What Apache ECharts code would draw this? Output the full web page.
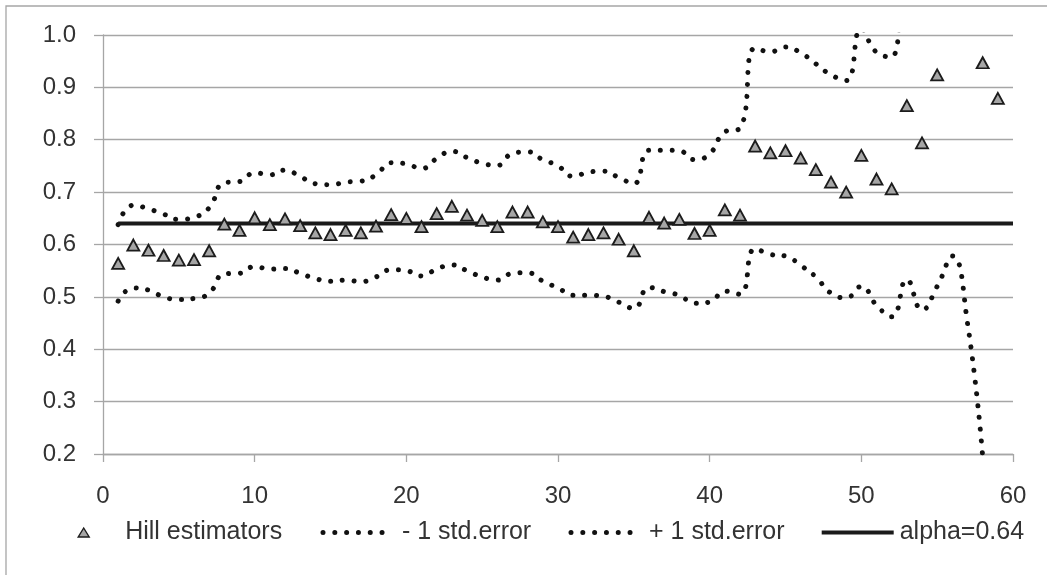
<!DOCTYPE html>
<html>
<head>
<meta charset="utf-8">
<script src="https://cdn.jsdelivr.net/npm/echarts@6/dist/echarts.min.js"></script>
<style>
html,body{margin:0;padding:0;background:#ffffff;}
#chart{width:1047px;height:575px;}
</style>
</head>
<body>
<div id="chart"></div>
<script>
// k (number of order statistics)
const kValues = [1,2,3,4,5,6,7,8,9,10,11,12,13,14,15,16,17,18,19,20,21,22,23,24,25,26,27,28,29,30,
  31,32,33,34,35,36,37,38,39,40,41,42,43,44,45,46,47,48,49,50,51,52,53,54,55,56,57,58,59];

// Hill estimators (null = not visible in the chart)
const hillValues = [0.564,0.599,0.589,0.579,0.570,0.571,0.588,0.639,0.627,0.651,
  0.638,0.649,0.636,0.622,0.619,0.627,0.622,0.635,0.657,0.650,
  0.634,0.659,0.673,0.656,0.646,0.634,0.662,0.662,0.643,0.634,
  0.614,0.619,0.622,0.610,0.588,0.652,0.641,0.648,0.621,0.627,
  0.666,0.656,0.788,0.775,0.779,0.765,0.743,0.719,0.700,0.770,
  0.725,0.706,0.865,0.794,0.924,null,null,0.947,0.879];

// - 1 std.error
const lowerValues = [0.492,0.517,0.513,0.500,0.495,0.497,0.507,0.544,0.545,0.558,
  0.553,0.554,0.545,0.535,0.530,0.532,0.529,0.538,0.552,0.550,
  0.540,0.553,0.561,0.550,0.538,0.532,0.545,0.546,0.530,0.517,
  0.503,0.503,0.501,0.490,0.478,0.518,0.510,0.503,0.488,0.490,
  0.511,0.505,0.592,0.581,0.578,0.560,0.538,0.507,0.498,0.520,
  0.484,0.462,0.533,0.475,0.520,0.578,0.450,0.195,null];

// + 1 std.error (values above 1.0 run off the top of the chart)
const upperValues = [0.638,0.675,0.668,0.658,0.648,0.652,0.670,0.718,0.720,0.737,
  0.733,0.742,0.730,0.716,0.714,0.719,0.721,0.733,0.756,0.754,
  0.745,0.764,0.778,0.766,0.755,0.751,0.774,0.777,0.762,0.750,
  0.730,0.738,0.740,0.728,0.716,0.780,0.780,0.779,0.762,0.773,
  0.815,0.822,0.975,0.968,0.977,0.966,0.945,0.924,0.913,1.012,
  0.967,0.958,1.195,1.110,1.320,null,null,null,null];

const alphaValue = 0.64;
const alphaK = [1, 60];

const seriesNames = ['Hill estimators', '- 1 std.error', '+ 1 std.error', 'alpha=0.64'];
const xAxisRange = [0, 60, 10];
const yAxisRange = [0.2, 1.0, 0.1];

const FONT = "'Liberation Sans', Arial, sans-serif";
const TXT = '#333333';
const GRIDC = '#a6a6a6';

function pairs(xs, ys) {
  return xs.map((x, i) => [x, ys[i]]);
}

const chart = echarts.init(document.getElementById('chart'), null, {renderer: 'canvas'});

const dotted = {color: '#111111', width: 5, type: [0.01, 11.8], cap: 'round'};

function legendFor(name, left, iw, ih, padLeft, extra) {
  return Object.assign({
    data: [name],
    left: left,
    top: 520,
    padding: 0,
    itemWidth: iw,
    itemHeight: ih,
    selectedMode: false,
    textStyle: {fontSize: 25, color: TXT, fontFamily: FONT, padding: [0, 0, 0, padLeft]}
  }, extra || {});
}

chart.setOption({
  animation: false,
  backgroundColor: '#ffffff',
  graphic: [{
    type: 'rect',
    shape: {x: 6, y: 6, width: 1200, height: 700},
    style: {fill: 'none', stroke: '#a6a6a6', lineWidth: 1.3},
    silent: true
  }],
  grid: {left: 103, right: 34, top: 35, bottom: 121, containLabel: false, outerBoundsMode: 'none'},
  xAxis: {
    type: 'value',
    min: xAxisRange[0], max: xAxisRange[1], interval: xAxisRange[2],
    axisLine: {show: true, lineStyle: {color: GRIDC, width: 1.3}},
    axisTick: {show: true, inside: false, length: 8, lineStyle: {color: GRIDC, width: 1.3}},
    splitLine: {show: false},
    axisLabel: {fontSize: 24, color: TXT, fontFamily: FONT, margin: 30}
  },
  yAxis: {
    type: 'value',
    min: yAxisRange[0], max: yAxisRange[1], interval: yAxisRange[2],
    axisLine: {show: true, lineStyle: {color: GRIDC, width: 1.3}},
    axisTick: {show: true, inside: false, length: 9, lineStyle: {color: GRIDC, width: 1.3}},
    splitLine: {show: true, lineStyle: {color: GRIDC, width: 1.3}},
    axisLabel: {fontSize: 24, color: TXT, fontFamily: FONT, margin: 27,
      formatter: v => v.toFixed(1)}
  },
  legend: [
    legendFor(seriesNames[0], 77.5, 11, 9, 31,
      {itemStyle: {color: '#a6a6a6', borderColor: '#1c1c1c', borderWidth: 1.4}}),
    legendFor(seriesNames[1], 320.5, 60, 14, 14,
      {lineStyle: dotted, itemStyle: {color: 'rgba(0,0,0,0)', borderWidth: 0}}),
    legendFor(seriesNames[2], 568.5, 60, 14, 13,
      {lineStyle: dotted, itemStyle: {color: 'rgba(0,0,0,0)', borderWidth: 0}}),
    legendFor(seriesNames[3], 819.7, 72, 14, 1,
      {lineStyle: {color: '#1a1a1a', width: 4, type: 'solid'}, itemStyle: {color: 'rgba(0,0,0,0)', borderWidth: 0}})
  ],
  series: [
    {
      name: seriesNames[2], type: 'line', smooth: 0.5, symbol: 'none', clip: true,
      data: pairs(kValues, upperValues), lineStyle: dotted, z: 2
    },
    {
      name: seriesNames[1], type: 'line', smooth: 0.5, symbol: 'none', clip: true,
      data: pairs(kValues, lowerValues), lineStyle: dotted, z: 2
    },
    {
      name: seriesNames[3], type: 'line', symbol: 'none', clip: true,
      data: alphaK.map(k => [k, alphaValue]),
      lineStyle: {color: '#1a1a1a', width: 4}, z: 3
    },
    {
      name: seriesNames[0], type: 'scatter', symbol: 'triangle', symbolSize: [12, 11], clip: true,
      data: pairs(kValues, hillValues).filter(p => p[1] !== null),
      itemStyle: {color: '#a6a6a6', borderColor: '#1c1c1c', borderWidth: 1.8, opacity: 1},
      z: 4
    }
  ]
});
</script>
</body>
</html>
